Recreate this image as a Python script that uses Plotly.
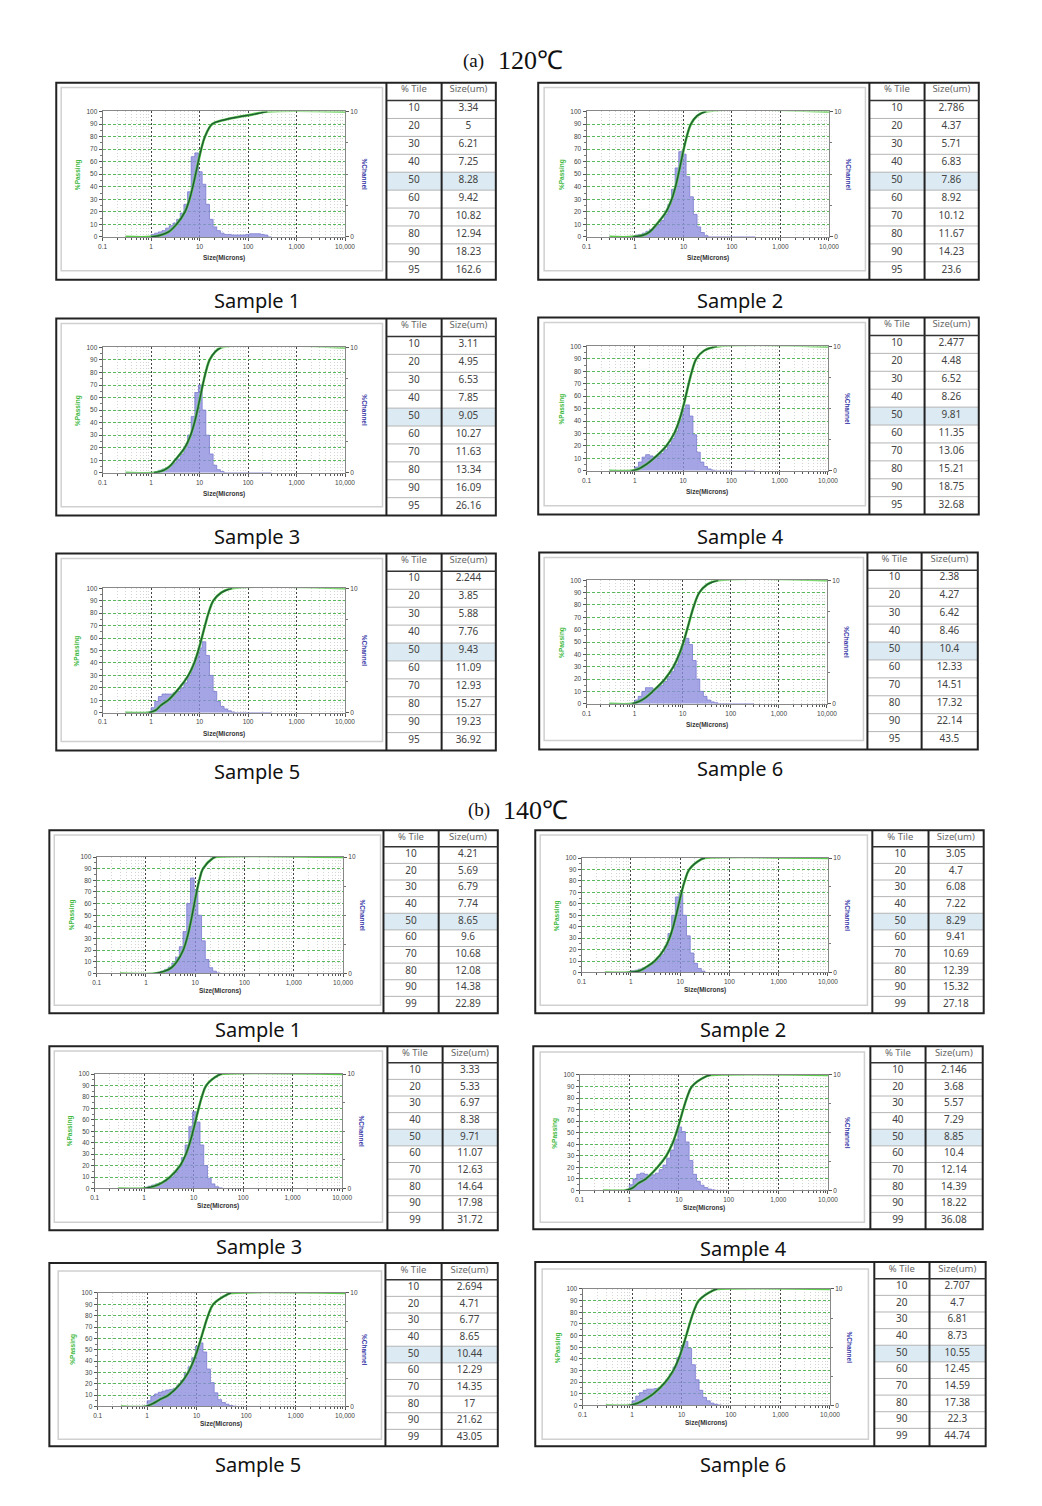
import plotly.graph_objects as go

W, H = 1042, 1506

# ---------------- data ----------------
CHANNEL_UM = [0.297, 0.354, 0.420, 0.500, 0.595, 0.707, 0.841, 1.000, 1.189, 1.414,
              1.682, 2.000, 2.378, 2.828, 3.364, 4.000, 4.757, 5.657, 6.727, 8.000,
              9.514, 11.31, 13.45, 16.00, 19.03, 22.63, 26.91, 32.00, 38.05, 45.25,
              53.82, 64.00, 76.11, 90.51, 107.6, 128.0, 152.2, 181.0, 215.3, 256.0, 304.4]

PCT_A = ["10", "20", "30", "40", "50", "60", "70", "80", "90", "95"]
PCT_B = ["10", "20", "30", "40", "50", "60", "70", "80", "90", "99"]

SIZE_A1 = ["3.34", "5", "6.21", "7.25", "8.28", "9.42", "10.82", "12.94", "18.23", "162.6"]
SIZE_A2 = ["2.786", "4.37", "5.71", "6.83", "7.86", "8.92", "10.12", "11.67", "14.23", "23.6"]
SIZE_A3 = ["3.11", "4.95", "6.53", "7.85", "9.05", "10.27", "11.63", "13.34", "16.09", "26.16"]
SIZE_A4 = ["2.477", "4.48", "6.52", "8.26", "9.81", "11.35", "13.06", "15.21", "18.75", "32.68"]
SIZE_A5 = ["2.244", "3.85", "5.88", "7.76", "9.43", "11.09", "12.93", "15.27", "19.23", "36.92"]
SIZE_A6 = ["2.38", "4.27", "6.42", "8.46", "10.4", "12.33", "14.51", "17.32", "22.14", "43.5"]
SIZE_B1 = ["4.21", "5.69", "6.79", "7.74", "8.65", "9.6", "10.68", "12.08", "14.38", "22.89"]
SIZE_B2 = ["3.05", "4.7", "6.08", "7.22", "8.29", "9.41", "10.69", "12.39", "15.32", "27.18"]
SIZE_B3 = ["3.33", "5.33", "6.97", "8.38", "9.71", "11.07", "12.63", "14.64", "17.98", "31.72"]
SIZE_B4 = ["2.146", "3.68", "5.57", "7.29", "8.85", "10.4", "12.14", "14.39", "18.22", "36.08"]
SIZE_B5 = ["2.694", "4.71", "6.77", "8.65", "10.44", "12.29", "14.35", "17", "21.62", "43.05"]
SIZE_B6 = ["2.707", "4.7", "6.81", "8.73", "10.55", "12.45", "14.59", "17.38", "22.3", "44.74"]

# %Channel (right axis, 0-10) per channel
CHAN_A1 = [0, 0, 0, 0, 0, 0, 0, 0.2, 0.3, 0.4, 0.5, 0.7, 0.9, 1.1, 1.4, 1.9, 2.6, 3.6, 6.4, 6.7,
           5.2, 4.2, 2.6, 1.4, 0.8, 0.5, 0.3, 0.2, 0.2, 0.15, 0.15, 0.15, 0.15, 0.2, 0.25, 0.25,
           0.25, 0.2, 0.15, 0, 0]
CHAN_A2 = [0, 0, 0, 0, 0, 0, 0.05, 0.15, 0.2, 0.3, 0.45, 0.6, 0.8, 1.0, 1.3, 1.8, 2.6, 3.8, 5.5, 6.8,
           6.6, 4.8, 3.2, 1.8, 0.8, 0.35, 0.1, 0, 0, 0, 0, 0, 0, 0, 0, 0, 0, 0, 0, 0, 0]
CHAN_A3 = [0, 0, 0, 0, 0, 0, 0, 0, 0.1, 0.2, 0.3, 0.4, 0.6, 0.8, 1.1, 1.5, 2.1, 3.0, 4.5, 6.4,
           7.0, 5.0, 3.0, 1.5, 0.6, 0.25, 0.1, 0, 0, 0, 0, 0, 0, 0, 0, 0, 0, 0, 0, 0, 0]
CHAN_A4 = [0, 0, 0, 0, 0, 0, 0.05, 0.3, 0.7, 1.1, 1.3, 1.2, 1.1, 1.2, 1.4, 1.7, 2.1, 2.6, 3.2, 4.1,
           5.0, 5.3, 4.4, 2.9, 1.5, 0.7, 0.35, 0.15, 0.05, 0, 0, 0, 0, 0, 0, 0, 0, 0, 0, 0, 0]
CHAN_A5 = [0, 0, 0, 0, 0, 0, 0.05, 0.4, 0.9, 1.3, 1.5, 1.5, 1.5, 1.6, 1.7, 2.0, 2.4, 3.0, 3.6, 4.4,
           5.2, 5.7, 4.6, 3.0, 1.7, 0.9, 0.5, 0.3, 0.15, 0.05, 0, 0, 0, 0, 0, 0, 0, 0, 0, 0, 0]
CHAN_A6 = [0, 0, 0, 0, 0, 0, 0.05, 0.3, 0.6, 1.0, 1.3, 1.3, 1.2, 1.3, 1.5, 1.8, 2.2, 2.6, 3.2, 4.0,
           4.8, 5.3, 4.8, 3.5, 2.0, 1.0, 0.6, 0.3, 0.15, 0.08, 0, 0, 0, 0, 0, 0, 0, 0, 0, 0, 0]
CHAN_B1 = [0, 0, 0, 0, 0, 0, 0, 0, 0, 0.05, 0.1, 0.2, 0.35, 0.55, 0.9, 1.4, 2.3, 3.6, 6.0, 8.2,
           7.2, 5.0, 2.8, 1.2, 0.5, 0.2, 0.05, 0, 0, 0, 0, 0, 0, 0, 0, 0, 0, 0, 0, 0, 0]
CHAN_B2 = [0, 0, 0, 0, 0, 0, 0.05, 0.15, 0.2, 0.3, 0.4, 0.5, 0.7, 0.9, 1.2, 1.6, 2.3, 3.4, 5.0, 6.6,
           6.9, 5.0, 3.2, 1.7, 0.8, 0.35, 0.12, 0, 0, 0, 0, 0, 0, 0, 0, 0, 0, 0, 0, 0, 0]
CHAN_B3 = [0, 0, 0, 0, 0, 0, 0, 0.1, 0.2, 0.3, 0.4, 0.5, 0.6, 0.8, 1.0, 1.4, 1.9, 2.7, 3.8, 5.4,
           6.7, 5.8, 3.8, 2.0, 0.9, 0.4, 0.15, 0.05, 0, 0, 0, 0, 0, 0, 0, 0, 0, 0, 0, 0, 0]
CHAN_B4 = [0, 0, 0, 0, 0, 0, 0.1, 0.5, 1.0, 1.4, 1.5, 1.4, 1.3, 1.35, 1.5, 1.8, 2.2, 2.8, 3.5, 4.4,
           5.5, 5.1, 4.2, 2.6, 1.4, 0.8, 0.45, 0.25, 0.12, 0.05, 0, 0, 0, 0, 0, 0, 0, 0, 0, 0, 0]
CHAN_B5 = [0, 0, 0, 0, 0, 0, 0.05, 0.5, 0.9, 1.1, 1.25, 1.35, 1.45, 1.5, 1.6, 1.9, 2.3, 2.9, 3.5, 4.3,
           5.3, 5.6, 4.8, 3.3, 2.1, 1.2, 0.6, 0.35, 0.2, 0.08, 0.03, 0, 0, 0, 0, 0, 0, 0, 0, 0, 0]
CHAN_B6 = [0, 0, 0, 0, 0, 0, 0.05, 0.4, 0.8, 1.1, 1.3, 1.4, 1.4, 1.45, 1.55, 1.8, 2.2, 2.7, 3.3, 4.1,
           5.0, 5.5, 4.9, 3.5, 2.2, 1.3, 0.7, 0.4, 0.2, 0.1, 0.04, 0, 0, 0, 0, 0, 0, 0, 0, 0, 0]

LEAD_A1 = ([1.0, 1.6, 2.3], [0, 1.5, 4]);   TAIL_A1 = ([30, 60, 120, 250], [93, 95.5, 97.5, 100])
LEAD_A2 = ([0.9, 1.5, 2.0], [0, 1.5, 4]);   TAIL_A2 = ([19, 29], [96.5, 100])
LEAD_A3 = ([1.15, 1.8, 2.4], [0, 2, 5]);    TAIL_A3 = ([21, 28], [96.5, 100])
LEAD_A4 = ([0.85, 1.2, 1.7], [0, 1.5, 5]);  TAIL_A4 = ([27, 50], [96.5, 100])
LEAD_A5 = ([0.9, 1.25, 1.6], [0, 2, 6]);    TAIL_A5 = ([28, 47], [96.5, 100])
LEAD_A6 = ([0.9, 1.25, 1.7], [0, 2, 5]);    TAIL_A6 = ([32, 55], [96.5, 100])
LEAD_B1 = ([1.5, 2.4, 3.3], [0, 2, 5]);     TAIL_B1 = ([26], [100])
LEAD_B2 = ([0.9, 1.5, 2.1], [0, 1.5, 5]);   TAIL_B2 = ([32], [100])
LEAD_B3 = ([1.0, 1.6, 2.3], [0, 2, 5]);     TAIL_B3 = ([37], [100])
LEAD_B4 = ([0.85, 1.15, 1.5], [0, 2, 6]);   TAIL_B4 = ([44], [100])
LEAD_B5 = ([0.95, 1.3, 1.8], [0, 2.5, 6]);  TAIL_B5 = ([50], [100])
LEAD_B6 = ([0.9, 1.3, 1.8], [0, 2, 5]);     TAIL_B6 = ([53], [100])

GROUP_TITLES = [("(a)", "120℃"), ("(b)", "140℃")]
SAMPLE_NAMES = ["Sample 1", "Sample 2", "Sample 3", "Sample 4", "Sample 5", "Sample 6"]
X_TICKS = [0.1, 1, 10, 100, 1000, 10000]
X_TICKTEXT = ["0.1", "1", "10", "100", "1,000", "10,000"]

# ---------------- layout geometry (pixels) ----------------
PANELS = [
    dict(pct=PCT_A, size=SIZE_A1, chan=CHAN_A1, lead=LEAD_A1, tail=TAIL_A1, ntab=9,
         box=(52, 79, 498, 277), tcol=(387, 443), row=18, plot=(99, 345, 108, 234),
         frame=(57, 84, 383, 268), label=(256, 298), name=SAMPLE_NAMES[0]),
    dict(pct=PCT_A, size=SIZE_A2, chan=CHAN_A2, lead=LEAD_A2, tail=TAIL_A2, ntab=9,
         box=(541, 79, 988, 277), tcol=(877, 933), row=18, plot=(590, 836, 108, 234),
         frame=(547, 84, 873, 268), label=(746, 298), name=SAMPLE_NAMES[1]),
    dict(pct=PCT_A, size=SIZE_A3, chan=CHAN_A3, lead=LEAD_A3, tail=TAIL_A3, ntab=9,
         box=(52, 316, 498, 514), tcol=(387, 443), row=18, plot=(99, 345, 345, 471),
         frame=(57, 321, 383, 505), label=(256, 535), name=SAMPLE_NAMES[2]),
    dict(pct=PCT_A, size=SIZE_A4, chan=CHAN_A4, lead=LEAD_A4, tail=TAIL_A4, ntab=9,
         box=(541, 315, 988, 513), tcol=(877, 933), row=18, plot=(590, 835, 344, 469),
         frame=(547, 320, 873, 504), label=(746, 535), name=SAMPLE_NAMES[3]),
    dict(pct=PCT_A, size=SIZE_A5, chan=CHAN_A5, lead=LEAD_A5, tail=TAIL_A5, ntab=9,
         box=(52, 552, 498, 750), tcol=(387, 443), row=18, plot=(99, 345, 587, 712),
         frame=(57, 557, 383, 741), label=(256, 771), name=SAMPLE_NAMES[4]),
    dict(pct=PCT_A, size=SIZE_A6, chan=CHAN_A6, lead=LEAD_A6, tail=TAIL_A6, ntab=9,
         box=(542, 551, 987, 749), tcol=(875, 930), row=18, plot=(590, 834, 579, 703),
         frame=(547, 556, 871, 740), label=(746, 768), name=SAMPLE_NAMES[5]),
    dict(pct=PCT_B, size=SIZE_B1, chan=CHAN_B1, lead=LEAD_B1, tail=TAIL_B1, ntab=10,
         box=(45, 830, 500, 1014), tcol=(384, 440), row=16.7, plot=(93, 343, 857, 974),
         frame=(50, 835, 381, 1006), label=(257, 1030), name=SAMPLE_NAMES[0]),
    dict(pct=PCT_B, size=SIZE_B2, chan=CHAN_B2, lead=LEAD_B2, tail=TAIL_B2, ntab=10,
         box=(538, 830, 993, 1014), tcol=(880, 937), row=16.7, plot=(585, 835, 858, 973),
         frame=(543, 835, 875, 1006), label=(749, 1030), name=SAMPLE_NAMES[1]),
    dict(pct=PCT_B, size=SIZE_B3, chan=CHAN_B3, lead=LEAD_B3, tail=TAIL_B3, ntab=10,
         box=(45, 1047, 500, 1232), tcol=(388, 444), row=16.7, plot=(91, 342, 1075, 1190),
         frame=(50, 1052, 383, 1224), label=(258, 1248), name=SAMPLE_NAMES[2]),
    dict(pct=PCT_B, size=SIZE_B4, chan=CHAN_B4, lead=LEAD_B4, tail=TAIL_B4, ntab=10,
         box=(536, 1047, 992, 1231), tcol=(878, 934), row=16.7, plot=(583, 835, 1076, 1192),
         frame=(543, 1053, 872, 1224), label=(749, 1250), name=SAMPLE_NAMES[3]),
    dict(pct=PCT_B, size=SIZE_B5, chan=CHAN_B5, lead=LEAD_B5, tail=TAIL_B5, ntab=10,
         box=(45, 1265, 500, 1449), tcol=(386, 443), row=16.7, plot=(94, 345, 1295, 1409),
         frame=(54, 1273, 382, 1442), label=(257, 1467), name=SAMPLE_NAMES[4]),
    dict(pct=PCT_B, size=SIZE_B6, chan=CHAN_B6, lead=LEAD_B6, tail=TAIL_B6, ntab=10,
         box=(538, 1264, 995, 1449), tcol=(882, 938), row=16.7, plot=(586, 837, 1291, 1408),
         frame=(545, 1271, 876, 1442), label=(749, 1467), name=SAMPLE_NAMES[5]),
]
TITLE_POS = [((475, 57), (533, 57)), ((481, 810), (538, 810))]
TEXT_SHIFT = 5.5   # table text sits low in plotly cells; lift the table text layer


def fx(px):
    return px / W


def fy(py):
    return 1 - py / H


def aid(n):
    return "" if n == 1 else str(n)


def ann(text, x, y, size, color, family="Liberation Sans", angle=0):
    return dict(text=text, x=fx(x), y=fy(y), xref="paper", yref="paper", showarrow=False,
                xanchor="center", yanchor="middle", textangle=angle,
                font=dict(family=family, size=size, color=color))


def pline(x0, y0, x1, y1, color, width):
    return dict(type="line", xref="paper", yref="paper", x0=fx(x0), x1=fx(x1),
                y0=fy(y0), y1=fy(y1), line=dict(color=color, width=width))


MINOR_X = [m * 10.0 ** e for e in range(-1, 4) for m in range(2, 10)]

fig = go.Figure()
layout = {}
shapes = []
annotations = []
TICKFONT = dict(family="Liberation Sans", size=6.5, color="#444")
CLEAR = "rgba(0,0,0,0)"

for k, p in enumerate(PANELS, start=1):
    assert len(p["chan"]) == len(CHANNEL_UM)
    xk = aid(k)
    yb = aid(2 * k - 1)   # %Channel (right, base)
    yo = aid(2 * k)       # %Passing (left, overlay -> drawn on top)
    px0, px1, py0, py1 = p["plot"]

    layout["xaxis" + xk] = dict(
        type="log", range=[-1, 4], domain=[fx(px0), fx(px1)], anchor="y" + yb,
        tickmode="array", tickvals=X_TICKS, ticktext=X_TICKTEXT, tickfont=TICKFONT,
        ticks="outside", ticklen=3, tickcolor="#555",
        showgrid=True, gridcolor="#444", griddash="2px,2px", gridwidth=0.8,
        minor=dict(tickmode="array", tickvals=MINOR_X, ticks="outside", ticklen=2,
                   tickcolor="#555", showgrid=True, gridcolor="#d4d4d4", griddash="1px,2px",
                   gridwidth=0.8),
        showline=True, linecolor="#888", linewidth=1, mirror=True, zeroline=False,
        fixedrange=True)
    layout["yaxis" + yb] = dict(
        range=[0, 10], domain=[fy(py1), fy(py0)], anchor="x" + xk, side="right",
        tickmode="array", tickvals=[0, 10], tickfont=TICKFONT, ticks="outside",
        ticklen=3, tickcolor="#555", showgrid=False, zeroline=False,
        minor=dict(dtick=2.5, ticks="outside", ticklen=2, tickcolor="#777"),
        showline=True, linecolor="#888", linewidth=1, fixedrange=True)
    layout["yaxis" + yo] = dict(
        range=[0, 100], overlaying="y" + yb, anchor="x" + xk, side="left",
        dtick=10, tickfont=TICKFONT, ticks="outside", ticklen=3, tickcolor="#555",
        showgrid=True, gridcolor="#5cb85c", griddash="3px,2px", gridwidth=0.8,
        minor=dict(dtick=5, ticks="outside", ticklen=2, tickcolor="#777"),
        showline=True, linecolor="#777", linewidth=1, zeroline=False, fixedrange=True)

    # histogram (%Channel)
    fig.add_trace(go.Scatter(
        x=CHANNEL_UM, y=p["chan"], xaxis="x" + xk, yaxis="y" + yb, mode="lines",
        line=dict(shape="hv", color="#7c7cd0", width=0.8), fill="tozeroy",
        fillcolor="rgba(140,140,222,0.78)", hoverinfo="skip", showlegend=False))

    # cumulative curve (%Passing)
    n = p["ntab"]
    cx = [CHANNEL_UM[0]] + p["lead"][0] + [float(v) for v in p["size"][:n]] + p["tail"][0]
    cy = [0] + p["lead"][1] + [float(v) for v in p["pct"][:n]] + p["tail"][1]
    fig.add_trace(go.Scatter(
        x=cx + [X_TICKS[-1]], y=cy + [100], xaxis="x" + xk, yaxis="y" + yo, mode="lines",
        line=dict(shape="spline", smoothing=1.0, color="#5ccc4c", width=2.6),
        hoverinfo="skip", showlegend=False))
    fig.add_trace(go.Scatter(
        x=cx[1:], y=cy[1:], xaxis="x" + xk, yaxis="y" + yo, mode="lines",
        line=dict(shape="spline", smoothing=1.0, color="#1f5a35", width=1.4),
        hoverinfo="skip", showlegend=False))

    # table (text from go.Table, grid lines / highlight drawn as shapes)
    bx0, by0, bx1, by1 = p["box"]
    tx0, tc = p["tcol"]
    row = p["row"]
    top = by0 - TEXT_SHIFT
    fig.add_trace(go.Table(
        domain=dict(x=[fx(tx0), fx(bx1)], y=[fy(top + 11 * row + 4), fy(top)]),
        columnwidth=[tc - tx0, bx1 - tc],
        header=dict(values=["% Tile", "Size(um)"], height=row, fill_color=CLEAR,
                    line=dict(color=CLEAR, width=0), align="center",
                    font=dict(family="Noto Sans", size=9.5, color="#666")),
        cells=dict(values=[p["pct"], p["size"]], height=row, fill_color=CLEAR,
                   line=dict(color=CLEAR, width=0), align="center",
                   font=dict(family="Noto Sans", size=10, color="#444"))))
    hi = p["pct"].index("50") + 1
    shapes.append(dict(type="rect", xref="paper", yref="paper", layer="below",
                       x0=fx(tx0), x1=fx(bx1), y0=fy(by0 + row * (hi + 1)), y1=fy(by0 + row * hi),
                       fillcolor="#dcebf3", line=dict(width=0)))
    for i in range(2, 11):
        shapes.append(pline(tx0, by0 + row * i, bx1, by0 + row * i, "#b4b4b4", 1))

    # frames
    fx0, fy0, fx1, fy1 = p["frame"]
    shapes.append(dict(type="rect", xref="paper", yref="paper", x0=fx(fx0), x1=fx(fx1),
                       y0=fy(fy1), y1=fy(fy0), line=dict(color="#d0d0d0", width=1.5)))
    shapes.append(dict(type="rect", xref="paper", yref="paper", x0=fx(bx0), x1=fx(bx1),
                       y0=fy(by1), y1=fy(by0), line=dict(color="#222", width=2)))
    for vx in (tx0, tc):
        shapes.append(pline(vx, by0, vx, by1, "#222", 2))
    shapes.append(pline(tx0, by0 + row, bx1, by0 + row, "#333", 1.5))

    # texts
    big = row > 17
    annotations.append(ann("<b>Size(Microns)</b>", (px0 + px1) / 2, py1 + (21 if big else 18),
                           6.5, "#333"))
    annotations.append(ann("<b>%Passing</b>", px0 - 25, (py0 + py1) / 2, 6.5, "#3cb83c", angle=-90))
    annotations.append(ann("<b>%Channel</b>", px1 + 20, (py0 + py1) / 2, 6.5, "#3a3aa8", angle=90))
    lx, ly = p["label"]
    annotations.append(ann(p["name"], lx, ly, 20, "#111", family="Noto Sans"))

for (tag, temp), (pa, pb) in zip(GROUP_TITLES, TITLE_POS):
    annotations.append(ann(tag, pa[0], pa[1], 19, "#111", family="Liberation Serif"))
    annotations.append(ann(temp, pb[0], pb[1], 26, "#111", family="Liberation Serif"))

fig.update_layout(**layout)
fig.update_layout(width=W, height=H, margin=dict(l=0, r=0, t=0, b=0),
                  paper_bgcolor="white", plot_bgcolor="white", showlegend=False,
                  shapes=shapes, annotations=annotations)

fig.write_html("out.html", config={"displayModeBar": False},
               post_script="document.body.style.margin='0';")
